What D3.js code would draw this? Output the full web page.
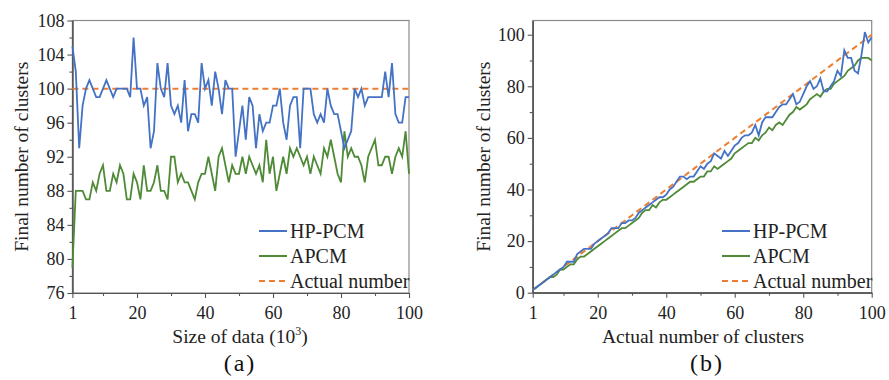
<!DOCTYPE html>
<html lang="en">
<head>
<meta charset="UTF-8">
<title>final number of clusters</title>
<script src="https://cdn.jsdelivr.net/npm/d3@7"></script>
<style>
    body{ margin:0; background:#fff; }
    svg{ display:block; }
</style>
</head>
<body>
<svg id="fig" width="889" height="380"></svg>
<script>
    // x positions (size of data in 10^3 / actual number of clusters)
    let xs = [1,2,3,4,5,6,7,8,9,10,11,12,13,14,15,16,17,18,19,20,
        21,22,23,24,25,26,27,28,29,30,31,32,33,34,35,36,37,38,39,40,
        41,42,43,44,45,46,47,48,49,50,51,52,53,54,55,56,57,58,59,60,
        61,62,63,64,65,66,67,68,69,70,71,72,73,74,75,76,77,78,79,80,
        81,82,83,84,85,86,87,88,89,90,91,92,93,94,95,96,97,98,99,100]

    // (a) final number of clusters vs size of data
    let hppcmA = [105,102,93,98,100,101,100,99,99,100,101,100,99,100,100,100,100,99,106,100,
        100,98,99,93,95,103,100,99,103,98,97,98,96,101,95,97,97,96,103,100,
        101,98,102,100,97,101,100,100,92,95,98,94,99,98,93,97,95,96,96,98,
        98,100,96,94,98,99,99,93,100,100,100,97,96,97,96,100,98,97,97,95,
        93,94,95,100,99,100,98,99,99,99,99,99,102,99,103,97,96,96,99,99]
    let apcmA = [79,88,88,88,87,87,89,88,90,91,88,88,90,89,91,90,87,87,90,89,
        87,91,88,88,89,91,88,88,87,92,92,89,90,89,89,88,87,89,90,90,
        92,90,88,92,93,91,89,91,90,90,92,90,92,91,90,91,89,94,90,92,
        88,90,92,90,93,92,93,92,91,92,90,92,91,90,93,92,94,92,90,89,
        95,92,93,92,92,91,89,92,93,94,91,91,92,92,90,92,93,92,95,90]
    let actualA = 100

    // (b) final number of clusters vs actual number of clusters
    let hppcmB = [1,2,3,4,5,6,7,8,9,10,12,12,12,15,16,17,17,17,19,20,
        21,22,23,25,25,25,27,27,28,28,29,31,32,33,34,35,36,37,37,38,
        40,41,43,45,45,44,45,45,47,49,48,50,51,54,53,52,55,53,55,57,
        58,60,61,61,62,65,61,66,68,68,68,70,72,73,73,75,77,73,74,77,
        80,82,79,80,83,78,78,80,82,86,84,94,91,91,86,85,92,101,97,99]
    let apcmB = [1,2,3,4,5,6,6,7,9,9,10,11,11,13,14,14,15,16,17,18,
        19,20,21,22,23,24,25,25,26,27,28,29,31,32,32,34,33,35,36,36,
        37,38,39,40,41,42,43,43,44,45,45,47,47,49,48,49,50,51,52,54,
        55,56,57,58,58,60,59,61,62,64,63,65,66,65,67,69,70,72,71,72,
        73,75,76,77,76,78,79,79,81,82,83,84,86,87,88,90,91,91,91,90]

    let xTicks = [1,20,40,60,80,100]
    let xMinor = [10,30,50,70,90]
    let yTicksA = [76,80,84,88,92,96,100,104,108]
    let yMinorA = [78,82,86,90,94,98,102,106]
    let yTicksB = [0,20,40,60,80,100]
    let yMinorB = [10,30,50,70,90]

    let legendNames = ["HP-PCM","APCM","Actual number"]
    let colors = {hp:"#4472c4", ap:"#4f8a36", act:"#ed7d31"}
    let serif = "Liberation Serif"

    let svg = d3.select("#fig").attr("font-family", serif)

    function panel(opt){
        let g = svg.append("g")
        let x = d3.scaleLinear().domain([1,100]).range([opt.left, opt.right])
        let y = d3.scaleLinear().domain(opt.yDomain).range([opt.bottom, opt.top])

        // frame
        g.append("rect")
            .attr("x", opt.left).attr("y", opt.top)
            .attr("width", opt.right-opt.left).attr("height", opt.bottom-opt.top)
            .attr("fill","none").attr("stroke","#8a8a8a").attr("stroke-width",1.2)

        // axes
        let xa = g.append("g").attr("transform","translate(0,"+opt.bottom+")")
            .call(d3.axisBottom(x).tickValues(xTicks).tickSize(5).tickSizeOuter(0).tickPadding(4))
        let xm = g.append("g").attr("transform","translate(0,"+opt.bottom+")")
            .call(d3.axisBottom(x).tickValues(xMinor).tickSize(3).tickSizeOuter(0).tickFormat(""))
        let ya = g.append("g").attr("transform","translate("+opt.left+",0)")
            .call(d3.axisLeft(y).tickValues(opt.yTicks).tickSize(5).tickSizeOuter(0).tickPadding(3))
        let ym = g.append("g").attr("transform","translate("+opt.left+",0)")
            .call(d3.axisLeft(y).tickValues(opt.yMinor).tickSize(3).tickSizeOuter(0).tickFormat(""))
        ;[xa,xm,ya,ym].forEach(function(a){
            a.attr("font-family", serif)
            a.select(".domain").attr("stroke","#555").attr("stroke-width",1.2)
            a.selectAll(".tick line").attr("stroke","#555").attr("stroke-width",1.1)
            a.selectAll(".tick text").attr("font-size",18).attr("font-family",serif).attr("fill","#222")
        })
        xa.selectAll(".tick text").attr("dy","0.95em")

        // series
        let line = d3.line().x(function(d){return x(d[0])}).y(function(d){return y(d[1])})
        g.append("path").datum(opt.actual)
            .attr("d",line).attr("fill","none").attr("stroke",colors.act)
            .attr("stroke-width",2).attr("stroke-dasharray","6,4")
        g.append("path").datum(d3.zip(xs, opt.ap))
            .attr("d",line).attr("fill","none").attr("stroke",colors.ap).attr("stroke-width",1.8)
        g.append("path").datum(d3.zip(xs, opt.hp))
            .attr("d",line).attr("fill","none").attr("stroke",colors.hp).attr("stroke-width",1.8)

        // legend
        let lg = g.append("g")
        let cols = [colors.hp, colors.ap, colors.act]
        legendNames.forEach(function(n,i){
            let yy = 231 + i*25
            lg.append("line").attr("x1",opt.legX).attr("x2",opt.legX+28)
                .attr("y1",yy).attr("y2",yy).attr("stroke",cols[i]).attr("stroke-width",2)
                .attr("stroke-dasharray", i===2 ? "6,4" : null)
            lg.append("text").attr("x",opt.legX+31).attr("y",yy+7)
                .attr("font-family",serif).attr("font-size",20).attr("fill","#222").text(n)
        })

        // titles
        g.append("text")
            .attr("transform","translate("+opt.yTitleX+","+((opt.top+opt.bottom)/2)+") rotate(-90)")
            .attr("text-anchor","middle").attr("dy","0.35em").attr("font-family",serif)
            .attr("font-size",19.5).attr("fill","#222").text("Final number of clusters")
        let xt = g.append("text").attr("x",opt.xTitleX).attr("y",343)
            .attr("text-anchor","middle").attr("font-family",serif)
            .attr("font-size",19.5).attr("fill","#222")
        opt.xTitle(xt)
        g.append("text").attr("x",opt.tagX).attr("y",371)
            .attr("text-anchor","middle").attr("font-family",serif)
            .attr("font-size",24).attr("letter-spacing",2)
            .attr("fill","#111").text(opt.tag)
    }

    panel({
        left:72.4, right:409, top:20.5, bottom:293,
        yDomain:[76,108], yTicks:yTicksA, yMinor:yMinorA,
        hp:hppcmA, ap:apcmA, actual:[[1,actualA],[100,actualA]],
        legX:259, yTitleX:21, xTitleX:240, tagX:240, tag:"(a)",
        xTitle:function(t){
            t.append("tspan").text("Size of data (10")
            t.append("tspan").attr("font-size",12).attr("dy",-8).text("3")
            t.append("tspan").attr("dy",8).text(")")
        }
    })

    panel({
        left:532.7, right:871.7, top:20.5, bottom:292.7,
        yDomain:[0,105.5], yTicks:yTicksB, yMinor:yMinorB,
        hp:hppcmB, ap:apcmB, actual:d3.zip(xs, xs),
        legX:722, yTitleX:483, xTitleX:703, tagX:707, tag:"(b)",
        xTitle:function(t){ t.text("Actual number of clusters") }
    })
</script>
</body>
</html>
